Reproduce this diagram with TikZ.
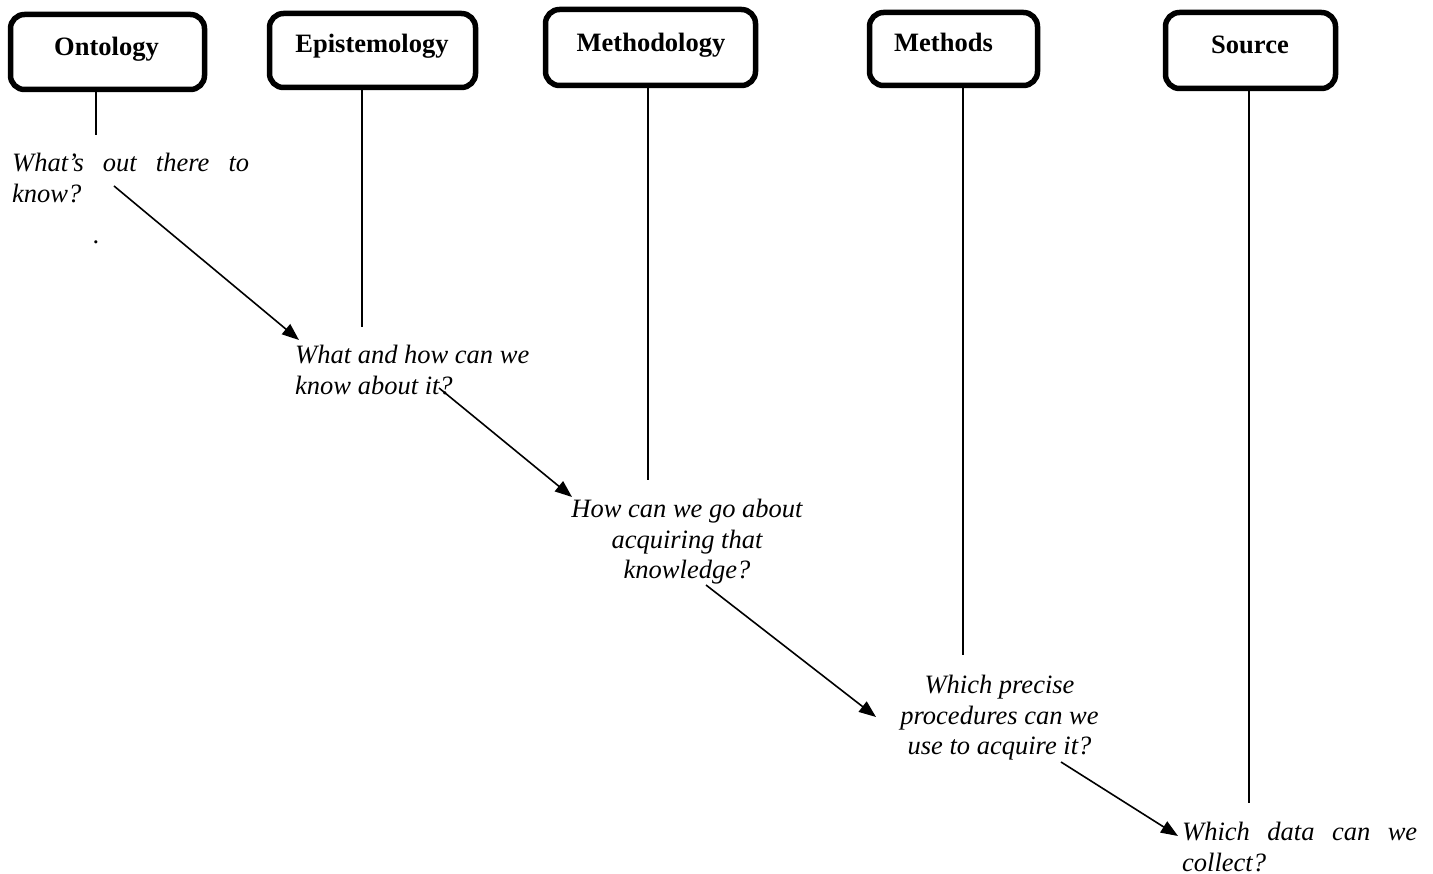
\documentclass[tikz,border=0pt]{standalone}
\usepackage{fontspec}
\setmainfont{Liberation Serif}
\usetikzlibrary{arrows.meta}
\begin{document}
\begin{tikzpicture}[x=1pt,y=-1pt,
  box/.style={draw, line width=5.5pt, rounded corners=14pt, inner sep=0pt},
  lbl/.style={font=\fontsize{26.5}{30}\selectfont\bfseries, inner sep=0pt, anchor=base},
  q/.style={font=\fontsize{26.5}{30.5}\selectfont\itshape, inner sep=0pt},
  conn/.style={line width=1.6pt},
  arr/.style={conn, -{Triangle[length=17pt,width=13pt]}}]
\useasboundingbox (0,0) rectangle (1433,874);
% boxes
\node[box, minimum width=194pt, minimum height=75pt] (onto) at (107.5,52) {};
\node[box, minimum width=206pt, minimum height=74pt] (epis) at (372.5,50.5) {};
\node[box, minimum width=210pt, minimum height=76pt] (mthy) at (650.5,47.5) {};
\node[box, minimum width=168pt, minimum height=73pt] (mths) at (953.5,49) {};
\node[box, minimum width=170pt, minimum height=76pt] (src) at (1250.5,50.5) {};
\node[lbl] (ontoL) at (106.5,56) {Ontology};
\node[lbl] (episL) at (372,53) {Epistemology};
\node[lbl] (mthyL) at (651,52) {Methodology};
\node[lbl] (mthsL) at (943.5,52) {Methods};
\node[lbl] (srcL) at (1250,54) {Source};
% questions
\node[q, anchor=north west, text width=237pt, align=left] (q1) at (12,153)
  {What’s\hfill out\hfill there\hfill to\\know?};
\node[q, anchor=north west, align=left] (q2) at (295,345)
  {What and how can we\\know about it?};
\node[q, anchor=north, align=center] (q3) at (687,499)
  {How can we go about\\acquiring that\\knowledge?};
\node[q, anchor=north, align=center] (q4) at (999.5,675)
  {Which precise\\procedures can we\\use to acquire it?};
\node[q, anchor=north west, text width=235pt, align=left] (q5) at (1182,822)
  {Which\hfill data\hfill can\hfill we\\collect?};
\node[inner sep=0pt, font=\fontsize{26.5}{30}\selectfont] (dot) at (96,242) {.};
% vertical line ends
\coordinate (ontoE) at (96,135);
\coordinate (episE) at (362,327);
\coordinate (mthyE) at (648,480);
\coordinate (mthsE) at (963,655);
\coordinate (srcE) at (1249,803);
\draw[conn] (onto.south -| ontoE) -- (ontoE);
\draw[conn] (epis.south -| episE) -- (episE);
\draw[conn] (mthy.south -| mthyE) -- (mthyE);
\draw[conn] (mths.south -| mthsE) -- (mthsE);
\draw[conn] ([yshift=3.5pt]src.south -| srcE) -- (srcE);
% arrows
\coordinate (a1s) at (114,186);
\coordinate (a1e) at (299,340);
\coordinate (a2s) at (439,388);
\coordinate (a2e) at (572,497);
\coordinate (a3s) at (706,585);
\coordinate (a3e) at (876,717);
\coordinate (a4s) at (1061,762);
\coordinate (a4e) at (1178,836);
\draw[arr] (a1s) -- (a1e);
\draw[arr] (a2s) -- (a2e);
\draw[arr] (a3s) -- (a3e);
\draw[arr] (a4s) -- (a4e);
\end{tikzpicture}
\end{document}
